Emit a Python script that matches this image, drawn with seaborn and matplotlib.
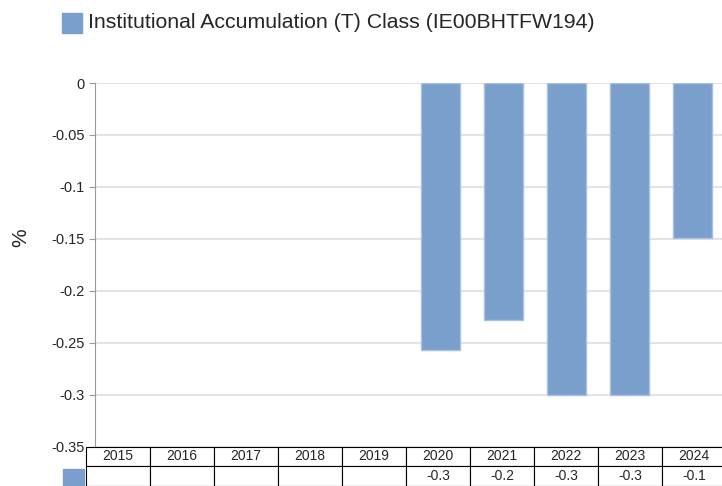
import matplotlib
matplotlib.use("Agg")
import matplotlib.pyplot as plt
from matplotlib.patches import Rectangle
import numpy as np
import pandas as pd
import seaborn as sns

# data
years = ["2015", "2016", "2017", "2018", "2019", "2020", "2021", "2022", "2023", "2024"]
returns = [np.nan, np.nan, np.nan, np.nan, np.nan, -0.257, -0.228, -0.300, -0.300, -0.149]
series_name = "Institutional Accumulation (T) Class (IE00BHTFW194)"
y_ticks = [0, -0.05, -0.1, -0.15, -0.2, -0.25, -0.3, -0.35]

bar_colour = "#7b9fcd"

sns.set_style("white")
plt.rcParams["font.family"] = ["Liberation Sans", "DejaVu Sans"]

df = pd.DataFrame({"year": years, "value": returns})

W, H = 722, 486
fig = plt.figure(figsize=(W / 100, H / 100), dpi=100)
ax = fig.add_axes([94.5 / W, 39.5 / H, 629 / W, 363.5 / H])

sns.barplot(data=df, x="year", y="value", order=years, color=bar_colour,
            width=0.62, edgecolor="#a8c0e2", linewidth=1, saturation=1,
            errorbar=None, ax=ax)

ax.set_ylim(-0.35, 0)
ax.set_xlim(-0.5, 9.5)
ax.set_yticks(y_ticks)
ax.set_yticklabels(["0" if t == 0 else f"{t:g}" for t in y_ticks])
ax.set_xticks([])
ax.set_xlabel("")
ax.yaxis.grid(True, color="#e4e4e4", linewidth=1.5)
ax.set_axisbelow(True)
for side in ["top", "right", "bottom"]:
    ax.spines[side].set_visible(False)
ax.spines["left"].set_color("#9a9a9a")
ax.tick_params(axis="y", left=True, length=4, color="#9a9a9a", labelsize=10.5, pad=3)
ax.set_ylabel("%", fontsize=15)
ax.yaxis.set_label_coords(-0.102, 0.574)

# data table under the chart
tax = fig.add_axes([86 / W, 0, 640 / W, 39.5 / H])
tax.axis("off")
row_vals = ["" if np.isnan(v) else f"{v:.1f}" for v in returns]
table = tax.table(cellText=[years, row_vals], cellLoc="center", bbox=[0, 0, 1, 1])
table.auto_set_font_size(False)
table.set_fontsize(10)
for cell in table.get_celld().values():
    cell.set_edgecolor("black")
    cell.set_linewidth(0.8)

# series key in the table row
fig.patches.append(Rectangle((63 / W, 0), 21 / W, 17 / H, transform=fig.transFigure,
                             color=bar_colour))

# legend at the top
fig.patches.append(Rectangle((62 / W, (H - 33) / H), 20 / W, 20 / H,
                             transform=fig.transFigure, color=bar_colour))
fig.text(88 / W, (H - 23) / H, series_name, fontsize=15.3, va="center", ha="left")

fig.savefig("out.png", dpi=100)
